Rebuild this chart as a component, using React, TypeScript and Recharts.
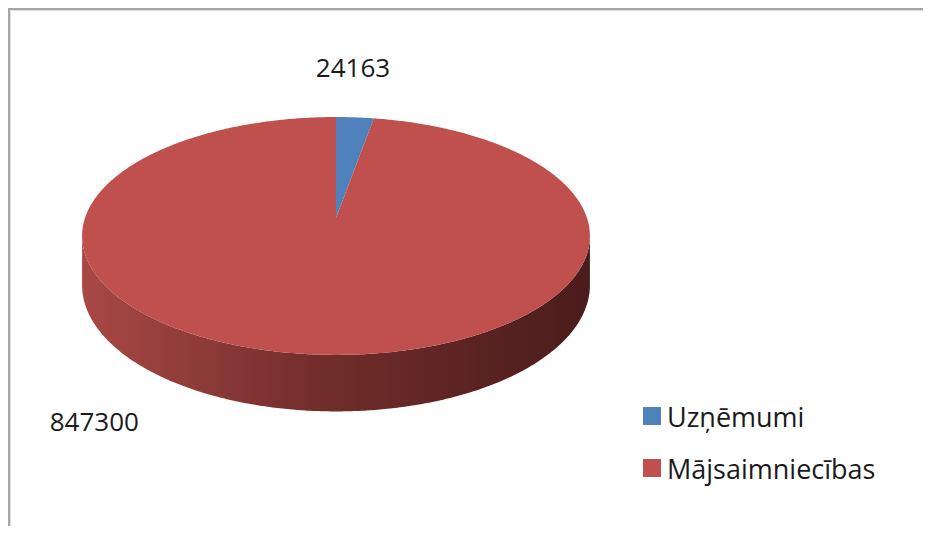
import React from 'react';
import { PieChart, Pie, Cell, Legend } from 'recharts';

const categories = ['Uzņēmumi', 'Mājsaimniecības'];
const values = [24163, 847300];
const colors = ['#4F81BD', '#C0504D'];

const data = categories.map((name, i) => ({ name, value: values[i] }));

const FONT = '"Open Sans", "Noto Sans", sans-serif';

// fake 3D: perspective tilt of the pie top + side wall depth
const TILT = 0.463;
const PERSP = 0.151;
const DEPTH = 48;
// label nudges (Excel "best fit" placement), relative to the projected rim point
const LABEL_NUDGE = [
  { dx: -2, dy: -40 },
  { dx: -216, dy: 77 },
];

function project(cx: number, cy: number, r: number, deg: number, rho = 1) {
  const t = (deg * Math.PI) / 180;
  const x = rho * Math.cos(t);
  const z = rho * Math.sin(t);
  const s = 1 / (1 + PERSP * z);
  return { x: cx + r * x * s, y: cy - r * TILT * z * s, s };
}

function Slice3D(props: any) {
  const { cx, cy, outerRadius, startAngle, endAngle, fill, index } = props;
  const step = startAngle > endAngle ? -0.5 : 0.5;
  const n = Math.ceil(Math.abs(endAngle - startAngle) / 0.5);
  const angles: number[] = [];
  for (let i = 0; i <= n; i++) angles.push(i === n ? endAngle : startAngle + step * i);

  const rim = angles.map((a) => project(cx, cy, outerRadius, a));
  const top = `M${cx},${cy} ` + rim.map((p) => `L${p.x.toFixed(2)},${p.y.toFixed(2)}`).join(' ') + ' Z';

  // visible front wall
  const front = angles.filter((a) => Math.sin((a * Math.PI) / 180) <= -PERSP);
  let side = '';
  if (front.length > 1) {
    const upper = front.map((a) => project(cx, cy, outerRadius, a));
    const lower = [...upper].reverse().map((p) => ({ x: p.x, y: p.y + DEPTH * p.s }));
    side =
      `M${upper[0].x.toFixed(2)},${upper[0].y.toFixed(2)} ` +
      upper.slice(1).map((p) => `L${p.x.toFixed(2)},${p.y.toFixed(2)}`).join(' ') +
      ' ' +
      lower.map((p) => `L${p.x.toFixed(2)},${p.y.toFixed(2)}`).join(' ') +
      ' Z';
  }

  const gid = `side-${index}`;
  return (
    <g>
      <defs>
        <linearGradient id={gid} gradientUnits="userSpaceOnUse" x1={cx - outerRadius} y1={0} x2={cx + outerRadius} y2={0}>
          <stop offset="0%" stopColor={index === 1 ? '#A84845' : '#3F6797'} />
          <stop offset="45%" stopColor={index === 1 ? '#732E2C' : '#2F4D72'} />
          <stop offset="100%" stopColor={index === 1 ? '#4A1C1B' : '#1F3450'} />
        </linearGradient>
      </defs>
      {side && <path d={side} fill={`url(#${gid})`} stroke="none" />}
      <path d={top} fill={fill} stroke="none" />
    </g>
  );
}

function renderLabel(props: any) {
  const { cx, cy, outerRadius, midAngle, index, value } = props;
  const p = project(cx, cy, outerRadius, midAngle);
  const nudge = LABEL_NUDGE[index] || { dx: 0, dy: 0 };
  return (
    <text
      x={p.x + nudge.dx}
      y={p.y + nudge.dy}
      textAnchor="middle"
      fill="#1a1a1a"
      fontSize={26}
      fontFamily={FONT}
    >
      {value}
    </text>
  );
}

function LegendBox({ payload }: any) {
  const items = [...(payload || [])].sort(
    (a: any, b: any) => categories.indexOf(a.value) - categories.indexOf(b.value)
  );
  return (
    <div style={{ fontFamily: FONT, fontSize: 27, color: '#1a1a1a' }}>
      {items.map((p: any) => (
        <div key={p.value} style={{ display: 'flex', alignItems: 'center', height: 52 }}>
          <span style={{ display: 'inline-block', width: 18, height: 18, background: p.color, marginRight: 6 }} />
          <span>{p.value}</span>
        </div>
      ))}
    </div>
  );
}

export default function App() {
  return (
    <div style={{ position: 'relative', margin: -8, width: 931, height: 534, background: '#fff' }}>
      {/* chart frame (page edge area left of x=8 is not drawn) */}
      <div style={{ position: 'absolute', left: 8, top: 8, width: 2, height: 526, background: '#A6A6A6' }} />
      <div style={{ position: 'absolute', left: 8, top: 8, width: 923, height: 2, background: '#A6A6A6' }} />
      <div style={{ position: 'absolute', left: 10, top: 10, width: 1, height: 524, background: '#E0E0E0' }} />
      <div style={{ position: 'absolute', left: 10, top: 10, width: 921, height: 1, background: '#E0E0E0' }} />
      <div style={{ position: 'absolute', left: 0, top: 0 }}>
        <PieChart width={931} height={534} margin={{ top: 0, right: 0, bottom: 0, left: 0 }}>
          <Pie
            data={data}
            dataKey="value"
            nameKey="name"
            cx={336}
            cy={218}
            outerRadius={251}
            startAngle={90}
            endAngle={-270}
            stroke="none"
            isAnimationActive={false}
            shape={Slice3D}
            label={renderLabel}
            labelLine={false}
          >
            {data.map((entry, index) => (
              <Cell key={`cell-${index}`} fill={colors[index]} />
            ))}
          </Pie>
          <Legend
            layout="vertical"
            align="right"
            verticalAlign="top"
            content={<LegendBox />}
            wrapperStyle={{ left: 643, top: 390, width: 280 }}
          />
        </PieChart>
      </div>
    </div>
  );
}
